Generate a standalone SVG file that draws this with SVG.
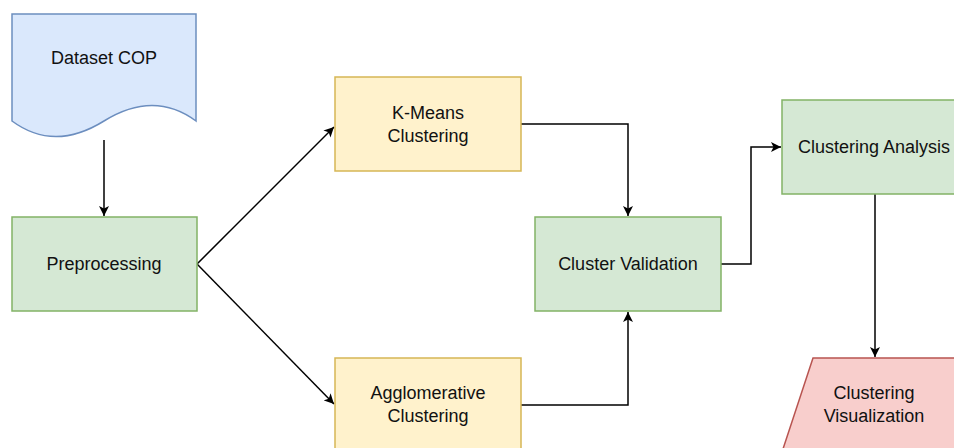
<svg xmlns="http://www.w3.org/2000/svg" width="954" height="448" viewBox="0 0 954 448">
<defs>
<marker id="arr" viewBox="0 0 10 10" refX="10" refY="5" markerWidth="11" markerHeight="10" orient="auto" markerUnits="userSpaceOnUse">
<path d="M0,0 L10,5 L0,10 L2.5,5 Z" fill="#000"/>
</marker>
<style>
text{font-family:"Liberation Sans",Arial,Helvetica,sans-serif;font-size:18px;fill:#111;text-anchor:middle;dominant-baseline:central}
.blue{fill:#dae8fc;stroke:#6c8ebf;stroke-width:1.5}
.green{fill:#d5e8d4;stroke:#82b366;stroke-width:1.5}
.yellow{fill:#fff2cc;stroke:#d6b656;stroke-width:1.5}
.red{fill:#f8cecc;stroke:#b85450;stroke-width:1.5}
.edge{fill:none;stroke:#000;stroke-width:1.5;marker-end:url(#arr)}
</style>
</defs>
<rect width="954" height="448" fill="#fff"/>
<g id="connectors">
<path class="edge" d="M104,140 V216"/>
<path class="edge" d="M197,264 L334,127"/>
<path class="edge" d="M197,264 L334,404"/>
<path class="edge" d="M521,124 H628 V216"/>
<path class="edge" d="M521,405 H628 V312"/>
<path class="edge" d="M721,264 H751 V147 H781"/>
<path class="edge" d="M875,194 V357"/>
</g>
<g id="dataset">
<path class="blue" d="M12,14 L196,14 L196,121 Q154,90 104,121 Q54,152 12,121 Z"/>
<text x="104" y="58">Dataset COP</text>
</g>
<g id="preprocessing">
<rect class="green" x="12" y="217" width="185" height="94"/>
<text x="104" y="264">Preprocessing</text>
</g>
<g id="kmeans">
<rect class="yellow" x="335" y="77" width="186" height="94"/>
<text x="428" y="113">K-Means</text>
<text x="428" y="136">Clustering</text>
</g>
<g id="agglomerative">
<rect class="yellow" x="335" y="358" width="186" height="94"/>
<text x="428" y="393">Agglomerative</text>
<text x="428" y="416">Clustering</text>
</g>
<g id="validation">
<rect class="green" x="535" y="217" width="186" height="94"/>
<text x="628" y="264">Cluster Validation</text>
</g>
<g id="analysis">
<rect class="green" x="782" y="100" width="186" height="94"/>
<text x="874" y="147">Clustering Analysis</text>
</g>
<g id="visualization">
<path class="red" d="M813,358 L999,358 L968,452 L782,452 Z"/>
<text x="874" y="393">Clustering</text>
<text x="874" y="416">Visualization</text>
</g>
</svg>
